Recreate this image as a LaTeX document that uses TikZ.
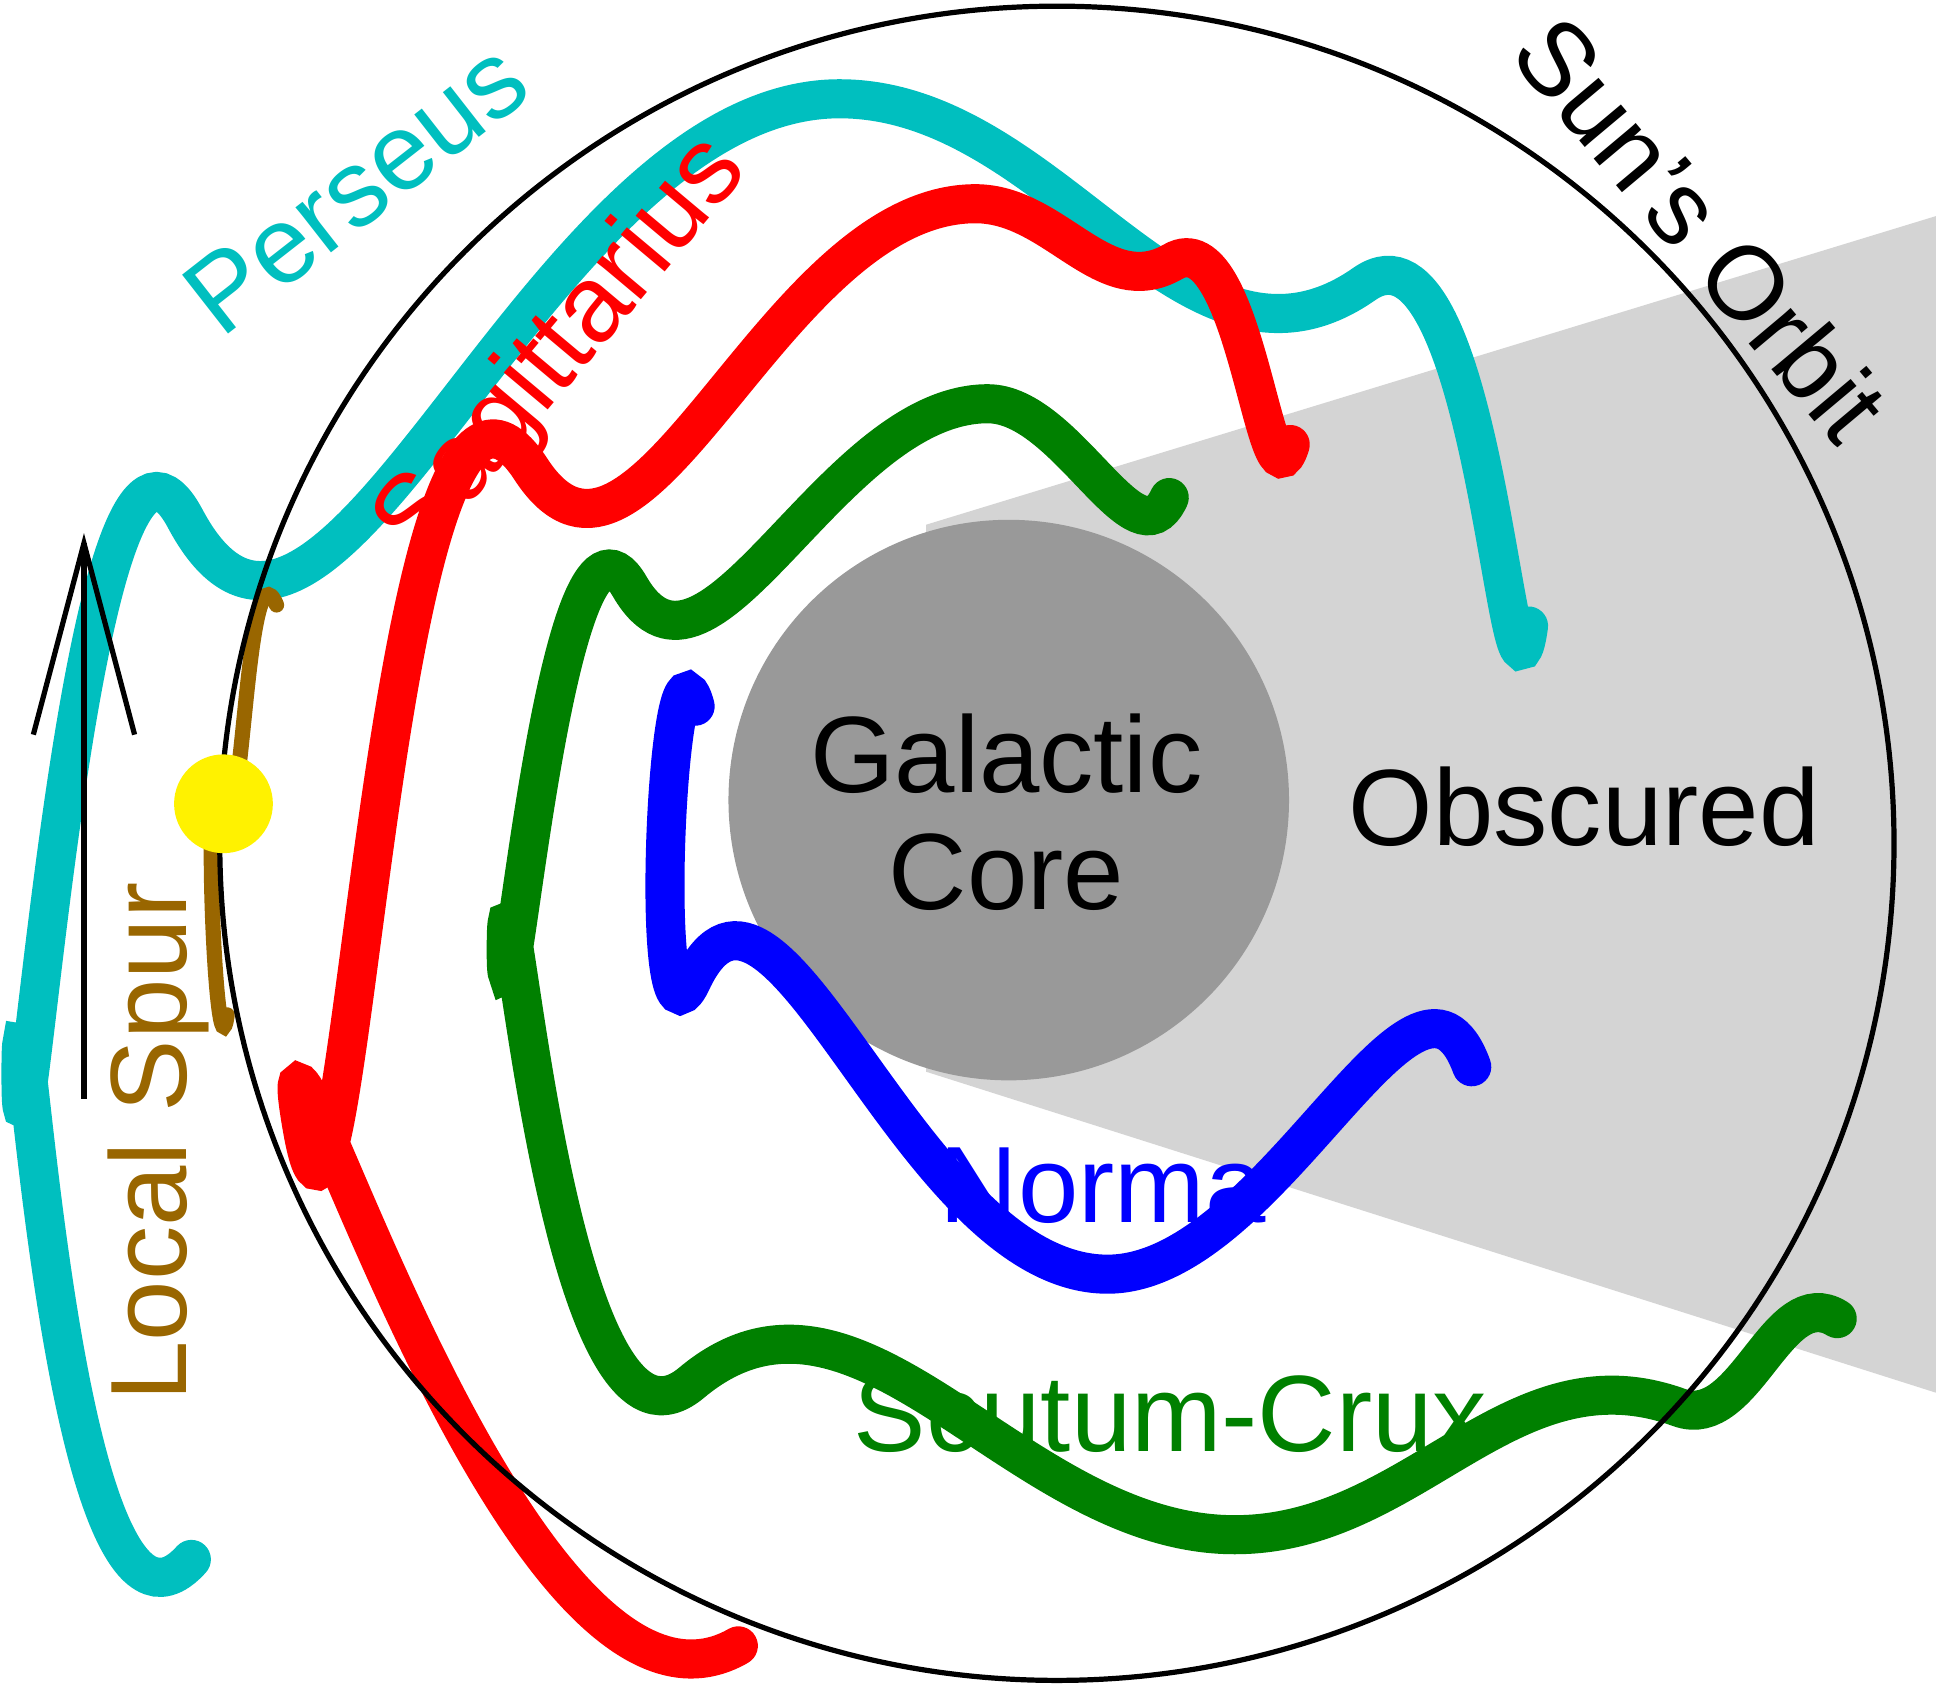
\documentclass[tikz,border=0pt]{standalone}
\usepackage{fontspec}
\setmainfont{Liberation Sans}
\usetikzlibrary{positioning}
\definecolor{perseus}{HTML}{00BFBF}
\definecolor{spur}{HTML}{996600}
\definecolor{scutum}{HTML}{008000}
\begin{document}
\begin{tikzpicture}[
  x=0.01cm, y=-0.01cm,
  arm/.style={
        line width=9pt,
        line cap=round
  },
  label/.style={
        font=\fontsize{25}{29}\selectfont,
        inner sep=0pt
  }
]

    \useasboundingbox (0,0) rectangle (1568,1364);

    % obscured region and core
    \fill[black!17] (750,425) -- (1568,175) -- (1568,1128) -- (750,868) -- cycle;
    \fill[black!40] (817,648) circle (227);

    % spiral arms
    \draw[arm, perseus] (155,1263) to[out=228,in=90] (17,870)
      to[out=270,in=118] (150,420) to[out=298,in=180] (680,80)
      to[out=0,in=215] (1105,230) to[out=35,in=262] (1238,507);
    \draw[arm, red] (598,1333) to[out=210,in=100] (245,915)
      to[out=280,in=123] (430,380) to[out=303,in=180] (790,165)
      to[out=0,in=210] (950,212) to[out=30,in=253] (1045,360);
    \draw[arm, scutum] (947,403) to[out=245,in=0] (800,327)
      to[out=180,in=300] (510,475) to[out=120,in=270] (410,770)
      to[out=90,in=220] (560,1120) to[out=40,in=180] (1000,1243)
      to[out=0,in=160] (1360,1140) to[out=340,in=148] (1488,1068);
    \draw[arm, blue] (563,572) to[out=105,in=245] (560,795)
      to[out=65,in=180] (897,1032) to[out=0,in=110] (1192,864);
    \draw[line width=3.5pt, line cap=round, spur] (224,490) to[out=113,in=285] (180,650)
      to[out=105,in=262] (184,822);

    % orbit and sun
    \draw[line width=1.2pt] (856,683) circle (678);
    \fill[yellow] (181,651) circle (40);

    % direction arrow
    \coordinate (tail) at (68,890);
    \coordinate (tip) at (68,440);
    \coordinate (barbL) at (27,595);
    \coordinate (barbR) at (109,595);
    \draw[line width=1.2pt] (tail) -- (tip);
    \draw[line width=1.2pt] (barbL) -- (tip) -- (barbR);

    % labels
    \node[label, align=center] (core) at (815,658) {Galactic\\[-2pt]Core};
    \node[label] (obscured) at (1283,653) {Obscured};
    \node[label, blue] (norma) at (893,960) {Norma};
    \node[label, scutum] (scutum) at (948,1145) {Scutum-Crux};
    \node[label, spur, rotate=90] (localspur) at (128,925) {Local Spur};
    \node[label, perseus, rotate=38] (perseuslbl) at (288,152) {Perseus};
    \node[label, red, rotate=50] (sagittarius) at (456,283) {Sagittarius};
    \node[label, rotate=-50, font=\fontsize{24}{28}\selectfont] (orbit) at (1378,185) {Sun's Orbit};
\end{tikzpicture}
\end{document}
